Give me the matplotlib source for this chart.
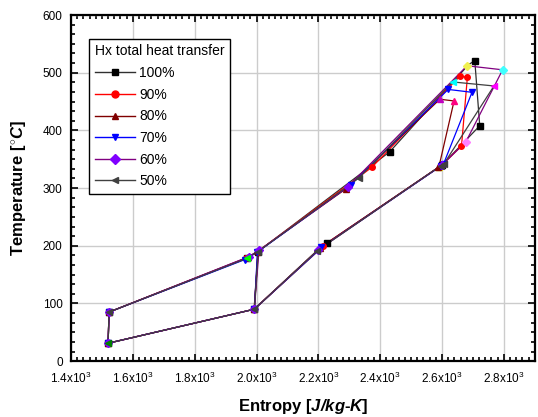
import matplotlib
matplotlib.use("Agg")
import matplotlib.pyplot as plt
from matplotlib.ticker import MultipleLocator, AutoMinorLocator, FuncFormatter
from matplotlib.lines import Line2D

plt.rcParams['font.family'] = ['Liberation Sans', 'DejaVu Sans']
plt.rcParams['mathtext.fontset'] = 'custom'
plt.rcParams['mathtext.rm'] = 'Liberation Sans'
plt.rcParams['mathtext.bfit'] = 'Liberation Sans:bold:italic'

# --- datos: puntos de estado del ciclo (entropia J/kg-K, temperatura C) ---
# estados: 0 entrada compresor, 1 salida compresor, 2 salida LTR frio, 3 mezcla,
# 4 HTR frio intermedio, 5 salida HTR frio, 6 entrada turbina, 7 salida turbina,
# 8 HTR caliente intermedio, 9 salida HTR caliente, 10 salida LTR caliente
labels = ['100%', '90%', '80%', '70%', '60%', '50%']

s_100 = [1520, 1523, 1970, 2005, 2431, 2686, 2706, 2722, 2600, 2228, 1993]
T_100 = [31, 85, 179, 190, 363, 514, 521, 408, 340, 205, 90]
s_90 = [1520, 1523, 1967, 2004, 2373, 2658, 2682, 2663, 2598, 2215, 1993]
T_90 = [31, 85, 178, 190, 336, 494, 492, 373, 339, 200, 90]
s_80 = [1520, 1523, 1972, 2006, 2290, 2593, 2639, 2590, 2588, 2205, 1992]
T_80 = [31, 85, 180, 191, 299, 454, 451, 337, 336, 196, 90]
s_70 = [1520, 1523, 1962, 2003, 2305, 2620, 2697, 2605, 2596, 2210, 1993]
T_70 = [31, 85, 176, 189, 306, 471, 466, 342, 338, 197, 90]
s_60 = [1520, 1523, 1975, 2008, 2295, 2681, 2796, 2677, 2600, 2200, 1993]
T_60 = [31, 85, 181, 192, 302, 512, 505, 380, 340, 193, 90]
s_50 = [1520, 1523, 1968, 2005, 2330, 2634, 2768, 2605, 2597, 2195, 1993]
T_50 = [31, 85, 178, 190, 317, 484, 477, 341, 339, 191, 90]

# orden de recorrido del ciclo (incluye la recompresion 10 -> 3)
path = [10, 3, 4, 5, 6, 7, 8, 9, 10, 0, 1, 2, 3]

line_colors = ['#303030', '#ff0000', '#800000', '#0000ff', '#800080', '#404040']
marker_colors = ['#000000', '#ff0000', '#800000', '#0000ff', '#8000ff', '#404040']
markers = ['s', 'o', '^', 'v', 'D', '<']

# colores de simbolos en los estados 5, 6, 7 (como aparecen en la figura)
top_marker_cols = [
    ['none', '#000000', '#000000'],
    ['#ff0000', '#ff0000', '#ff0000'],
    ['#c000c0', '#ff0080', '#e0e000'],
    ['#0000ff', '#0000ff', '#0000ff'],
    ['#f0f050', '#40ffff', '#ff80ff'],
    ['#00ffff', '#ff00ff', '#404040'],
]

series_s = [s_100, s_90, s_80, s_70, s_60, s_50]
series_T = [T_100, T_90, T_80, T_70, T_60, T_50]

fig = plt.figure(figsize=(5.38, 4.17), dpi=100)
ax = fig.add_axes([0.132, 0.134, 0.862, 0.830])

for i in range(len(labels)):
    s = series_s[i]
    T = series_T[i]
    xs = [s[k] for k in path]
    ys = [T[k] for k in path]
    ax.plot(xs, ys, color=line_colors[i], lw=0.9, zorder=3)
    cols = [marker_colors[i]] * len(s)
    cols[5:8] = top_marker_cols[i]
    if i == 5:
        cols[0] = '#008000'
        cols[2] = '#00ff00'
    for k in range(len(s)):
        if cols[k] == 'none':
            continue
        ax.plot(s[k], T[k], marker=markers[i], color=cols[k], ms=4,
                mec=cols[k], ls='none', zorder=4)

ax.set_xlim(1400, 2900)
ax.set_ylim(0, 600)
ax.xaxis.set_major_locator(MultipleLocator(200))
ax.xaxis.set_minor_locator(AutoMinorLocator(10))
ax.yaxis.set_major_locator(MultipleLocator(100))
ax.yaxis.set_minor_locator(AutoMinorLocator(6))


def fmt_x(v, pos):
    return r'%.1fx10$^{3}$' % (v / 1000.0)


ax.xaxis.set_major_formatter(FuncFormatter(fmt_x))
ax.grid(True, which='major', color='#cccccc', lw=1.0, zorder=0)
ax.set_axisbelow(True)

ax.tick_params(which='both', direction='in', top=True, right=True, width=1.2,
               labelsize=8.5)
ax.tick_params(which='major', length=5)
ax.tick_params(which='minor', length=3)
ax.tick_params(axis='x', which='major', pad=7)
ax.tick_params(axis='y', which='major', pad=6)
for sp in ax.spines.values():
    sp.set_linewidth(1.6)

ax.set_xlabel(r'Entropy [$\mathbfit{J/kg}$-$\mathbfit{K}$]', fontsize=12,
              fontweight='bold', labelpad=8)
ax.set_ylabel(r'Temperature [$^{\circ}\mathbfit{C}$]', fontsize=12,
              fontweight='bold', labelpad=10)

handles = [Line2D([], [], color=line_colors[i], marker=markers[i], ms=5,
                  mfc=marker_colors[i], mec=marker_colors[i], lw=1.0)
           for i in range(len(labels))]
leg = ax.legend(handles, labels, title='Hx total heat transfer',
                loc='upper left', bbox_to_anchor=(0.039, 0.931),
                borderaxespad=0, fontsize=10, title_fontsize=10,
                alignment='left', fancybox=False, edgecolor='black',
                framealpha=1, handlelength=2.9, handletextpad=0.3,
                labelspacing=0.55, borderpad=0.4)
leg.get_frame().set_linewidth(1.0)
leg.set_zorder(5)

fig.savefig('out.png', dpi=100)
